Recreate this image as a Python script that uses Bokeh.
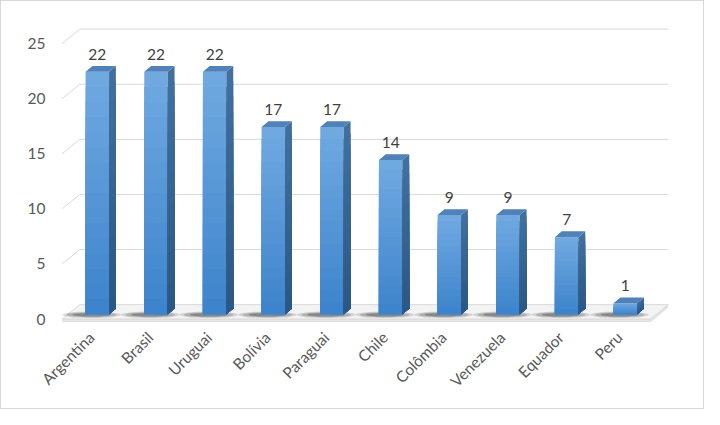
import math
from bokeh.plotting import figure
from bokeh.models import Range1d, FixedTicker, ColumnDataSource
from bokeh.core.properties import value
from bokeh.embed import file_html
from bokeh.resources import INLINE

# ---- data ----
countries = ["Argentina", "Brasil", "Uruguai", "Bolívia", "Paraguai",
             "Chile", "Colômbia", "Venezuela", "Equador", "Peru"]
counts = [22, 22, 22, 17, 17, 14, 9, 9, 7, 1]
y_ticks = [0, 5, 10, 15, 20, 25]

# ---- style / geometry constants ----
W, H = 704, 409
KX, KY = W / 720, H / 425
PX_X = 60.0 * KX          # px per category
PX_Y = 11.45 * KY         # px per value unit
CX0 = 98 * KX             # px of first category centre
FY0 = 330 * KY            # px of value 0 on the front plane
DX = 18 / 60.0            # wall depth (x units)
DY = 15 / 11.45           # wall depth (y units)
B0 = 5 / 11.45            # bar front offset above floor front
SX = 7 / 60.0             # bar depth x
SY = 6 / 11.45            # bar depth y
BW = 0.4                  # bar width
LBL_SHIFT = -0.1          # category label anchor shift
FONT = "Lato"
n = len(countries)
idx = list(range(n))

FL, FR, FT, FB = 49, 684, 14, 327
x0 = (FL - CX0) / PX_X
x1 = (FR - CX0) / PX_X
y0 = (FY0 - FB) / PX_Y
y1 = (FY0 - FT) / PX_Y

p = figure(width=W, height=H, output_backend="svg", toolbar_location=None,
           x_range=Range1d(x0, x1), y_range=Range1d(y0, y1),
           min_border_left=FL, min_border_right=W - FR, min_border_top=FT,
           min_border_bottom=H - FB)
p.outline_line_color = None
p.grid.visible = False
p.background_fill_color = "white"
p.border_fill_color = "white"
p.styles = {"border": "1px solid #d9d9d9", "box-sizing": "border-box"}

wall_l = -0.6
back_r = (682 - 98) / 60.0
front_r = back_r - DX
slab = 2.5 / 11.45

# floor slab
p.patch([wall_l, wall_l + DX, back_r, front_r], [0, DY, DY, 0],
        fill_color="#f3f3f3", line_color=None)
p.patch([wall_l, front_r, back_r, back_r, front_r, wall_l],
        [0, 0, DY, DY - slab, -slab, -slab],
        fill_color="#e4e4e4", line_color=None)
p.line([wall_l, front_r, back_r], [0, 0, DY], line_color="#d9d9d9", line_width=1)
p.line([wall_l, front_r, back_r], [-slab, -slab, DY - slab],
       line_color="#e0e0e0", line_width=1)

# back-wall gridlines and left-wall diagonals
gx = [[wall_l, wall_l + DX, back_r] for t in y_ticks]
gy = [[t, t + DY, t + DY] for t in y_ticks]
p.multi_line(gx, gy, line_color="#d9d9d9", line_width=1)

# shadows on floor
for w, h, a in [(1.0, 0.6, 0.16), (0.85, 0.45, 0.22), (0.65, 0.32, 0.32)]:
    p.ellipse(x=[i - 0.1 for i in idx], y=[B0 - 0.05] * n, width=w, height=h,
              fill_color="#333333", fill_alpha=a, line_color=None)

# bars with vertical gradient on front face
def lerp(c1, c2, t):
    a = [int(c1[k:k + 2], 16) for k in (1, 3, 5)]
    b = [int(c2[k:k + 2], 16) for k in (1, 3, 5)]
    return "#%02x%02x%02x" % tuple(round(a[j] + (b[j] - a[j]) * t) for j in range(3))

NS = 16
ql, qr, qb, qt, qc = [], [], [], [], []
for i, v in zip(idx, counts):
    for s in range(NS - 1, -1, -1):
        ql.append(i - BW / 2)
        qr.append(i + BW / 2)
        qb.append(B0)
        qt.append(B0 + v * (s + 1) / NS)
        qc.append(lerp("#3c83cb", "#71aae1", (s + 0.5) / NS))
p.quad(left=ql, right=qr, bottom=qb, top=qt, fill_color=qc, line_color=None)

# side faces (gradient too)
sxs, sys_, scol = [], [], []
for i, v in zip(idx, counts):
    xr = i + BW / 2
    for s in range(NS - 1, -1, -1):
        hgt = v * (s + 1) / NS
        sxs.append([xr, xr + SX, xr + SX, xr])
        sys_.append([B0, B0 + SY, B0 + hgt + SY, B0 + hgt])
        scol.append(lerp("#2a5886", "#42709f", (s + 0.5) / NS))
p.patches(sxs, sys_, fill_color=scol, line_color=None)
# top faces
txs, tys = [], []
for i, v in zip(idx, counts):
    top = B0 + v
    txs.append([i - BW / 2, i - BW / 2 + SX, i + BW / 2 + SX, i + BW / 2])
    tys.append([top, top + SY, top + SY, top])
p.patches(txs, tys, fill_color="#5181b9", line_color=None)

# data labels
src = ColumnDataSource(dict(x=idx, y=[B0 + v + SY + 12 / 11.45 for v in counts],
                            t=[str(v) for v in counts]))
p.text(x="x", y="y", text="t", source=src, text_align="center",
       text_baseline="middle", text_font=value(FONT),
       text_font_size="15.5px", text_color="#404040")

# axes
for ax in (p.xaxis, p.yaxis):
    ax.axis_line_color = None
    ax.major_tick_line_color = None
    ax.minor_tick_line_color = None
    ax.major_tick_out = 0
    ax.major_tick_in = 0
    ax.minor_tick_out = 0
    ax.major_label_text_font = FONT
    ax.major_label_text_font_size = "15.5px"
    ax.major_label_text_color = "#595959"

p.yaxis.ticker = FixedTicker(ticks=y_ticks)
p.yaxis.major_label_standoff = 5

xt = [i + LBL_SHIFT for i in idx]
p.xaxis.ticker = FixedTicker(ticks=xt)
p.xaxis.major_label_overrides = {t: c for t, c in zip(xt, countries)}
p.xaxis.major_label_orientation = math.pi / 4
p.xaxis.major_label_standoff = 6

open("out.html", "w").write(file_html(p, INLINE))
